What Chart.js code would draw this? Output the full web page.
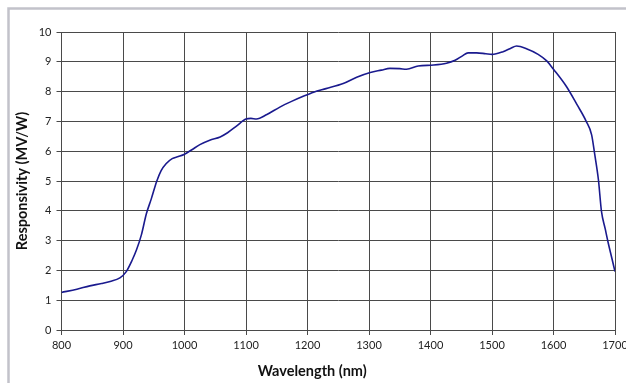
<!DOCTYPE html>
<html>
<head>
<meta charset="utf-8">
<script src="https://cdn.jsdelivr.net/npm/chart.js@4.4.1/dist/chart.umd.min.js"></script>
<style>
  html, body { margin: 0; padding: 0; background: #fff; }
  #box { position: relative; width: 626px; height: 383px; overflow: hidden; }
  #wrap { position: absolute; left: 0; top: 0; width: 650px; height: 383px; }
</style>
</head>
<body>
<div id="box"><div id="wrap"><canvas id="chart"></canvas></div></div>
<script>
// wavelength (nm) and responsivity (MV/W)
const wavelength = [800, 825, 846, 865, 879, 895, 905, 915, 922, 930, 938, 946, 955, 962, 970, 980, 990, 1000,
  1012, 1025, 1041, 1058, 1070, 1085, 1100, 1108, 1117, 1134, 1155, 1175, 1195, 1210, 1230, 1258, 1280,
  1302, 1320, 1334, 1350, 1361, 1380, 1405, 1426, 1440, 1452, 1461, 1475, 1490, 1500, 1518, 1530, 1540,
  1556, 1575, 1589, 1600, 1621, 1638, 1653, 1662, 1667, 1673, 1678, 1684, 1689, 1695, 1700];
const responsivity = [1.26, 1.37, 1.48, 1.56, 1.63, 1.75, 1.95, 2.35, 2.69, 3.2, 3.9, 4.4, 5.0, 5.35, 5.58, 5.75, 5.82, 5.9,
  6.05, 6.22, 6.37, 6.48, 6.62, 6.85, 7.08, 7.1, 7.08, 7.23, 7.48, 7.68, 7.86, 7.98, 8.1, 8.27, 8.48,
  8.64, 8.72, 8.78, 8.77, 8.75, 8.86, 8.89, 8.95, 9.05, 9.2, 9.3, 9.3, 9.27, 9.25, 9.34, 9.45, 9.53,
  9.44, 9.25, 9.03, 8.75, 8.17, 7.57, 7.01, 6.55, 5.9, 5.05, 3.98, 3.4, 2.92, 2.4, 1.96];

const xTicks = [800, 900, 1000, 1100, 1200, 1300, 1400, 1500, 1600, 1700];
const yTicks = [0, 1, 2, 3, 4, 5, 6, 7, 8, 9, 10];

const points = wavelength.map((w, i) => ({ x: w, y: responsivity[i] }));

const gridColor = '#4a4a4a';
const fontFamily = 'Lato, "Open Sans", sans-serif';
const labelFont = { family: fontFamily, size: 11 };
const titleFont = { family: fontFamily, size: 14.5, weight: 'bold' };

// light outer frame plus the x-axis title (sits a bit left of the plot centre)
const decorations = {
  id: 'decorations',
  afterDraw(chart) {
    const ctx = chart.ctx;
    const a = chart.chartArea;
    ctx.save();
    ctx.strokeStyle = '#c2c2ca';
    ctx.lineWidth = 2.5;
    ctx.beginPath();
    ctx.moveTo(8.5, 383);
    ctx.lineTo(8.5, 8.5);
    ctx.lineTo(650, 8.5);
    ctx.stroke();

    ctx.font = 'bold 14.5px ' + fontFamily;
    ctx.fillStyle = '#111';
    ctx.textAlign = 'center';
    ctx.textBaseline = 'middle';
    ctx.fillText('Wavelength (nm)', a.left + (a.right - a.left) * 0.453, 371);
    ctx.restore();
  }
};

new Chart(document.getElementById('chart'), {
  type: 'scatter',
  data: {
    datasets: [{
      data: points,
      showLine: true,
      borderColor: '#1a1a8e',
      borderWidth: 1.6,
      pointRadius: 0,
      tension: 0.4,
      cubicInterpolationMode: 'monotone',
      fill: false
    }]
  },
  options: {
    responsive: true,
    maintainAspectRatio: false,
    animation: false,
    layout: { padding: { top: 32, right: 35, bottom: 0, left: 0 } },
    plugins: { legend: { display: false }, tooltip: { enabled: false } },
    scales: {
      x: {
        type: 'linear',
        min: 800, max: 1700,
        afterBuildTicks: s => { s.ticks = xTicks.map(v => ({ value: v })); },
        afterFit: s => { s.height = 53; },
        grid: { color: gridColor, lineWidth: 1, tickLength: 5 },
        border: { color: gridColor, width: 1 },
        ticks: { color: '#222', font: labelFont, padding: 4, maxRotation: 0, callback: v => String(v) }
      },
      y: {
        min: 0, max: 10,
        afterBuildTicks: s => { s.ticks = yTicks.map(v => ({ value: v })); },
        afterFit: s => { s.width = 61.5; },
        grid: { color: gridColor, lineWidth: 1, tickLength: 5 },
        border: { color: gridColor, width: 1 },
        ticks: { color: '#222', font: labelFont, padding: 5, callback: v => String(v) },
        title: { display: true, text: 'Responsivity (MV/W)', color: '#111', font: titleFont, padding: { top: 14, bottom: 0 } }
      }
    }
  },
  plugins: [decorations]
});
</script>
</body>
</html>
